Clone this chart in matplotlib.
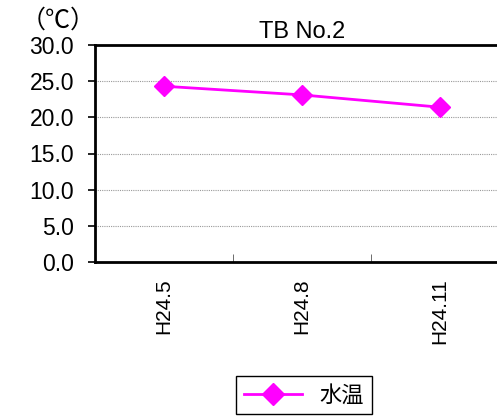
import matplotlib.pyplot as plt
import numpy as np

plt.rcParams['font.family'] = ['Liberation Sans', 'Noto Sans CJK JP', 'DejaVu Sans']

# data
months = ["H24.5", "H24.8", "H24.11"]
water_temp = [24.3, 23.1, 21.4]
yticks = [0, 5, 10, 15, 20, 25, 30]

fig = plt.figure(figsize=(4.97, 4.17), dpi=100)
ax = fig.add_axes([95 / 497, 155 / 417, 414 / 497, 217 / 417])

x = np.arange(len(months))
ax.plot(x, water_temp, color="#FF00FF", lw=2, marker="D", ms=10,
        label="水温", clip_on=False)

ax.set_xlim(-0.5, len(months) - 0.5)
ax.set_ylim(0, 30)
ax.set_yticks(yticks)
ax.set_yticklabels([f"{v:.1f}" for v in yticks], fontsize=16.5)
ax.set_xticks(x)
ax.set_xticklabels(months, rotation=90, fontsize=15)
ax.set_xticks(x[:-1] + 0.5, minor=True)
ax.tick_params(axis="x", which="major", length=0, pad=12)
ax.tick_params(axis="x", which="minor", direction="in", length=6, color="#555555")
ax.tick_params(axis="y", direction="out", length=5, width=1.2, pad=10)

for v in yticks[1:-1]:
    ax.axhline(v, color="#999999", lw=0.8, ls=(0, (1, 1)), zorder=0)

for s in ["left", "bottom", "top"]:
    ax.spines[s].set_linewidth(2)
ax.spines["right"].set_visible(False)

ax.set_title("TB No.2", fontsize=17, pad=5)
fig.text(58 / 497, 1 - 21 / 417, "（℃）", fontsize=18, ha="center", va="center",
         family=['Noto Sans CJK JP', 'DejaVu Sans'])

leg = fig.legend(loc="center", bbox_to_anchor=(304 / 497, 1 - 395 / 417),
                 fancybox=False, edgecolor="black", framealpha=1,
                 handlelength=2.6, borderpad=0.35, markerscale=1.1,
                 prop={'family': ['Noto Sans CJK JP', 'DejaVu Sans'], 'size': 16})
leg.get_frame().set_linewidth(1)

fig.savefig("out.png", dpi=100)
